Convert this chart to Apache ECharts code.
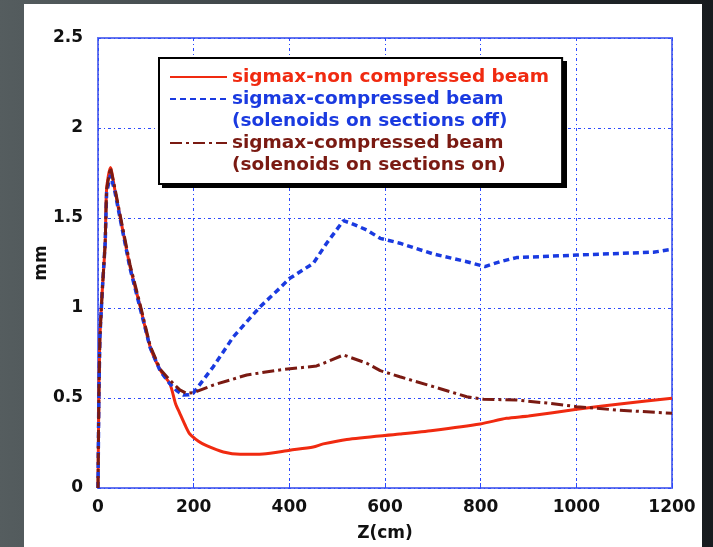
<!DOCTYPE html>
<html>
<head>
<meta charset="utf-8">
<script src="https://cdn.jsdelivr.net/npm/echarts@6/dist/echarts.min.js"></script>
<style>
  html, body { margin: 0; padding: 0; width: 713px; height: 547px; overflow: hidden; }
  body { background: linear-gradient(90deg, #555d5f 0%, #3c4346 40%, #23282b 75%, #171b1e 100%); position: relative; }
  #panel { position: absolute; left: 24px; top: 4px; width: 678px; height: 543px; background: #fff; }
  #chart { position: absolute; left: 0; top: 0; width: 713px; height: 547px; }
</style>
</head>
<body>
<div id="panel"></div>
<div id="chart"></div>
<script>
// z (cm), sigma x (mm)
const nonCompressed = [
  [0, 0], [1, 0.3], [2, 0.55], [4, 0.84], [9, 1.1], [15, 1.36], [18, 1.66], [26, 1.78],
  [35, 1.66], [46, 1.51], [67, 1.23], [88, 1.01], [109, 0.785], [130, 0.656], [150, 0.58],
  [155, 0.54], [162, 0.47], [171, 0.415], [182, 0.35], [192, 0.3], [210, 0.26], [227, 0.235],
  [262, 0.2], [297, 0.187], [345, 0.189], [401, 0.21], [450, 0.228], [471, 0.245], [520, 0.27],
  [631, 0.3], [700, 0.32], [799, 0.356], [854, 0.387], [900, 0.4], [1001, 0.437], [1100, 0.47],
  [1200, 0.498]
]
const compressedOff = [
  [0, 0], [1, 0.3], [2, 0.55], [4, 0.84], [9, 1.1], [15, 1.36], [18, 1.64], [26, 1.74],
  [35, 1.65], [46, 1.5], [67, 1.22], [88, 1.0], [109, 0.78], [130, 0.65], [150, 0.58],
  [165, 0.54], [178, 0.517], [190, 0.518], [199, 0.526], [241, 0.674], [283, 0.84], [339, 1.007],
  [380, 1.11], [401, 1.165], [450, 1.248], [478, 1.36], [513, 1.485], [530, 1.47], [562, 1.433],
  [590, 1.387], [631, 1.36], [701, 1.3], [771, 1.257], [809, 1.23], [840, 1.257], [875, 1.28],
  [1001, 1.294], [1161, 1.31], [1200, 1.326]
]
const compressedOn = [
  [0, 0], [1, 0.3], [2, 0.55], [4, 0.84], [9, 1.1], [15, 1.36], [18, 1.66], [26, 1.78],
  [35, 1.67], [46, 1.52], [67, 1.24], [88, 1.02], [109, 0.79], [130, 0.66], [150, 0.6],
  [171, 0.545], [185, 0.526], [200, 0.53], [241, 0.572], [311, 0.628], [380, 0.656], [457, 0.678],
  [478, 0.7], [513, 0.739], [562, 0.693], [590, 0.652], [631, 0.618], [701, 0.563], [771, 0.507],
  [806, 0.493], [875, 0.489], [945, 0.47], [1001, 0.452], [1085, 0.433], [1200, 0.415]
]

// legend rows (second line of a two-line entry gets its own row with no icon)
const legendText = {
  non: 'sigmax-non compressed beam',
  off: 'sigmax-compressed beam',
  offNote: '(solenoids on sections off)',
  on: 'sigmax-compressed beam',
  onNote: '(solenoids on sections on)'
}

const RED = '#f02a10'
const BLUE = '#1a3ae0'
const BROWN = '#7a1a12'
const FONT = 'DejaVu Sans'

const chart = echarts.init(document.getElementById('chart'))

const axisLabel = { color: '#111', fontFamily: FONT, fontWeight: 'bold', fontSize: 17, formatter: (v) => String(v) }
const gridLine = { show: true, lineStyle: { color: '#2a48ff', width: 1, type: [3, 3, 1, 3] } }
const nameStyle = { color: '#111', fontFamily: FONT, fontWeight: 'bold', fontSize: 17 }
const hidden = { opacity: 0 }

chart.setOption({
  backgroundColor: 'transparent',
  animation: false,
  grid: {
    left: 98, top: 38, right: 41, bottom: 59,
    show: true, backgroundColor: '#fff', borderColor: '#6676ee', borderWidth: 2
  },
  // drop shadow of the legend box
  graphic: [{
    type: 'rect', left: 162, top: 61, z: 3, silent: true,
    shape: { width: 405, height: 127 },
    style: { fill: '#000' }
  }],
  legend: {
    orient: 'vertical',
    left: 159,
    top: 58,
    z: 5,
    padding: [8, 13, 8, 10],
    itemWidth: 57,
    itemHeight: 14,
    itemGap: 0,
    backgroundColor: '#fff',
    borderColor: '#000',
    borderWidth: 2,
    borderRadius: 0,
    itemStyle: { opacity: 0 },
    formatter: (name) => legendText[name],
    textStyle: { fontFamily: FONT, fontWeight: 'bold', fontSize: 18.5, lineHeight: 22 },
    data: [
      { name: 'non', textStyle: { color: RED } },
      { name: 'off', textStyle: { color: BLUE } },
      { name: 'offNote', textStyle: { color: BLUE }, lineStyle: hidden },
      { name: 'on', textStyle: { color: BROWN } },
      { name: 'onNote', textStyle: { color: BROWN }, lineStyle: hidden }
    ]
  },
  xAxis: {
    type: 'value',
    min: 0, max: 1200, interval: 200,
    name: 'Z(cm)',
    nameLocation: 'middle',
    nameGap: 37,
    nameMoveOverlap: false,
    nameTextStyle: nameStyle,
    axisLine: { show: false },
    axisTick: { show: true, inside: true, length: 5, lineStyle: { color: '#2a48ff' } },
    axisLabel: { ...axisLabel, margin: 11 },
    splitLine: gridLine
  },
  yAxis: {
    type: 'value',
    min: 0, max: 2.5, interval: 0.5,
    name: 'mm',
    nameLocation: 'middle',
    nameGap: 48,
    nameMoveOverlap: false,
    nameTextStyle: nameStyle,
    axisLine: { show: false },
    axisTick: { show: false },
    axisLabel: { ...axisLabel, margin: 15 },
    splitLine: gridLine
  },
  series: [
    {
      name: 'off', type: 'line', data: compressedOff, symbol: 'none', z: 3,
      lineStyle: { color: BLUE, width: 3.5, type: [6, 4] }, itemStyle: { color: BLUE }
    },
    {
      name: 'on', type: 'line', data: compressedOn, symbol: 'none', z: 4,
      lineStyle: { color: BROWN, width: 3, type: [12, 4, 3, 4] }, itemStyle: { color: BROWN }
    },
    {
      name: 'non', type: 'line', data: nonCompressed, symbol: 'none', z: 2, smooth: 0.25,
      lineStyle: { color: RED, width: 3 }, itemStyle: { color: RED }
    },
    { name: 'offNote', type: 'line', data: [], symbol: 'none', lineStyle: hidden, itemStyle: { color: BLUE } },
    { name: 'onNote', type: 'line', data: [], symbol: 'none', lineStyle: hidden, itemStyle: { color: BROWN } }
  ]
})

window.addEventListener('resize', () => chart.resize())
</script>
</body>
</html>
